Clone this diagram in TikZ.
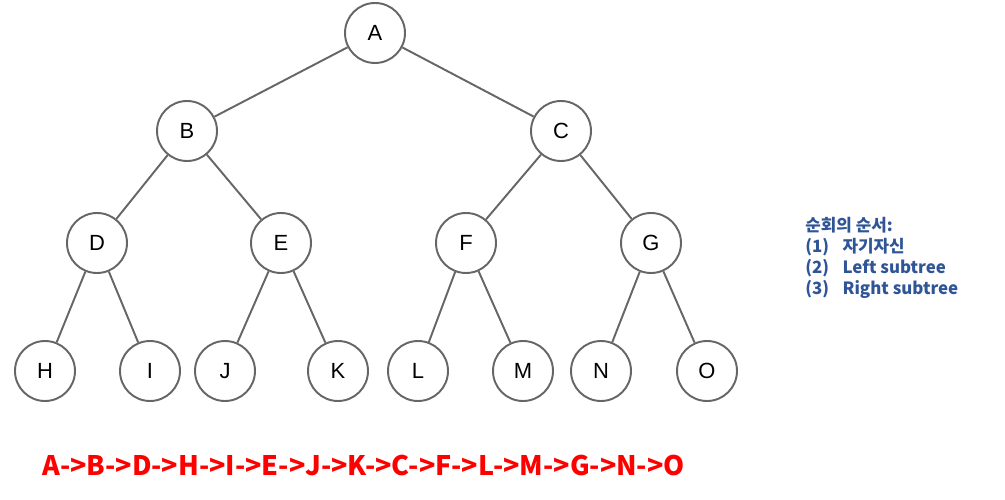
\documentclass[tikz,border=0pt]{standalone}
\usepackage{fontspec}
\setmainfont{Liberation Sans}
\newfontfamily\kofont{Noto Sans CJK KR}
\usepackage{tikz}
\usetikzlibrary{positioning}
\definecolor{edgegray}{HTML}{666666}
\definecolor{noteblue}{HTML}{2F5597}
\definecolor{seqred}{HTML}{FF0000}

\begin{document}
\begin{tikzpicture}[x=0.02cm, y=-0.02cm,
    vertex/.style={draw=edgegray, line width=1.1pt, circle, minimum size=1.2cm, inner sep=0pt, fill=white, font=\fontsize{12.5}{14}\selectfont},
    link/.style={draw=edgegray, line width=1.1pt}]
    \useasboundingbox (0,0) rectangle (1005,500);

    % Root
    \node[vertex] (A) at (375,33) {A};

    % Level 1
    \node[vertex] (B) at (187,131) {B};
    \node[vertex] (C) at (561,131) {C};

    % Level 2
    \node[vertex] (D) at (97,243) {D};
    \node[vertex] (E) at (281,243) {E};
    \node[vertex] (F) at (466,243) {F};
    \node[vertex] (G) at (651,243) {G};

    % Leaves
    \node[vertex] (H) at (45,371) {H};
    \node[vertex] (I) at (150,371) {I};
    \node[vertex] (J) at (225,371) {J};
    \node[vertex] (K) at (338,371) {K};
    \node[vertex] (L) at (418,371) {L};
    \node[vertex] (M) at (523,371) {M};
    \node[vertex] (N) at (601,371) {N};
    \node[vertex] (O) at (707,371) {O};

    % Edges
    \draw[link] (A) -- (B);
    \draw[link] (A) -- (C);
    \draw[link] (B) -- (D);
    \draw[link] (B) -- (E);
    \draw[link] (C) -- (F);
    \draw[link] (C) -- (G);
    \draw[link] (D) -- (H);
    \draw[link] (D) -- (I);
    \draw[link] (E) -- (J);
    \draw[link] (E) -- (K);
    \draw[link] (F) -- (L);
    \draw[link] (F) -- (M);
    \draw[link] (G) -- (N);
    \draw[link] (G) -- (O);

    % Traversal order note
    \node[anchor=north west, inner sep=0pt, text=noteblue, align=left,
          font=\kofont\bfseries\fontsize{9.6}{12}\selectfont] (note) at (805,217)
        {순회의 순서:\\
         (1)\hspace{0.8em}자기자신\\
         (2)\hspace{0.8em}Left subtree\\
         (3)\hspace{0.8em}Right subtree};

    % Visiting sequence
    \node[anchor=west, inner sep=0pt, text=seqred,
          font=\kofont\bfseries\fontsize{15.3}{17}\selectfont] (seq) at (42,465)
        {A->B->D->H->I->E->J->K->C->F->L->M->G->N->O};
\end{tikzpicture}
\end{document}
